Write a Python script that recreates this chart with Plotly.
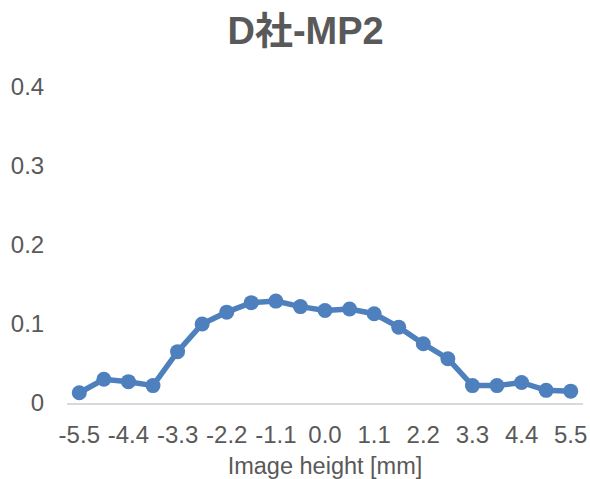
import plotly.graph_objects as go

# Image height positions [mm]
image_height = [-5.5, -4.95, -4.4, -3.85, -3.3, -2.75, -2.2, -1.65, -1.1, -0.55,
                0.0, 0.55, 1.1, 1.65, 2.2, 2.75, 3.3, 3.85, 4.4, 4.95, 5.5]
# Measured values
mp2_values = [0.013, 0.030, 0.027, 0.022, 0.065, 0.100, 0.115, 0.127, 0.129, 0.122,
              0.117, 0.119, 0.113, 0.096, 0.075, 0.056, 0.022, 0.022, 0.026, 0.016, 0.015]
# Axis labels
x_tick_vals = [-5.5, -4.4, -3.3, -2.2, -1.1, 0.0, 1.1, 2.2, 3.3, 4.4, 5.5]
x_tick_text = ["-5.5", "-4.4", "-3.3", "-2.2", "-1.1", "0.0", "1.1", "2.2", "3.3", "4.4", "5.5"]
y_tick_vals = [0, 0.1, 0.2, 0.3, 0.4]
y_tick_text = ["0", "0.1", "0.2", "0.3", "0.4"]

FONT = "Liberation Sans, Arial, Noto Sans CJK JP, sans-serif"
GREY = "#595959"
BLUE = "#4E80BD"

fig = go.Figure(
    go.Scatter(
        x=image_height,
        y=mp2_values,
        mode="lines+markers",
        line=dict(color=BLUE, width=5.5),
        marker=dict(color=BLUE, size=15),
        cliponaxis=False,
    )
)

fig.update_layout(
    width=590,
    height=479,
    margin=dict(l=67, r=7, t=87, b=76, autoexpand=False),
    paper_bgcolor="white",
    plot_bgcolor="white",
    showlegend=False,
    title=dict(
        text="<b>D社-MP2</b>",
        x=0.518,
        xanchor="center",
        y=0.936,
        yanchor="middle",
        font=dict(family=FONT, size=38, color=GREY),
    ),
    font=dict(family=FONT, color=GREY),
)

fig.update_xaxes(
    range=[-5.775, 5.775],
    tickvals=x_tick_vals,
    ticktext=x_tick_text,
    tickfont=dict(size=24, color=GREY),
    ticks="outside",
    ticklen=9,
    tickcolor="rgba(0,0,0,0)",
    showgrid=False,
    zeroline=False,
    showline=True,
    linecolor="#D9D9D9",
    linewidth=1.5,
    automargin=False,
    title=dict(text="Image height [mm]", font=dict(size=23.5, color=GREY), standoff=11),
)

fig.update_yaxes(
    range=[0, 0.4],
    tickvals=y_tick_vals,
    ticktext=y_tick_text,
    tickfont=dict(size=24, color=GREY),
    ticks="outside",
    ticklen=17,
    tickcolor="rgba(0,0,0,0)",
    showgrid=False,
    zeroline=False,
    showline=False,
    automargin=False,
)

fig.write_html("out.html")
